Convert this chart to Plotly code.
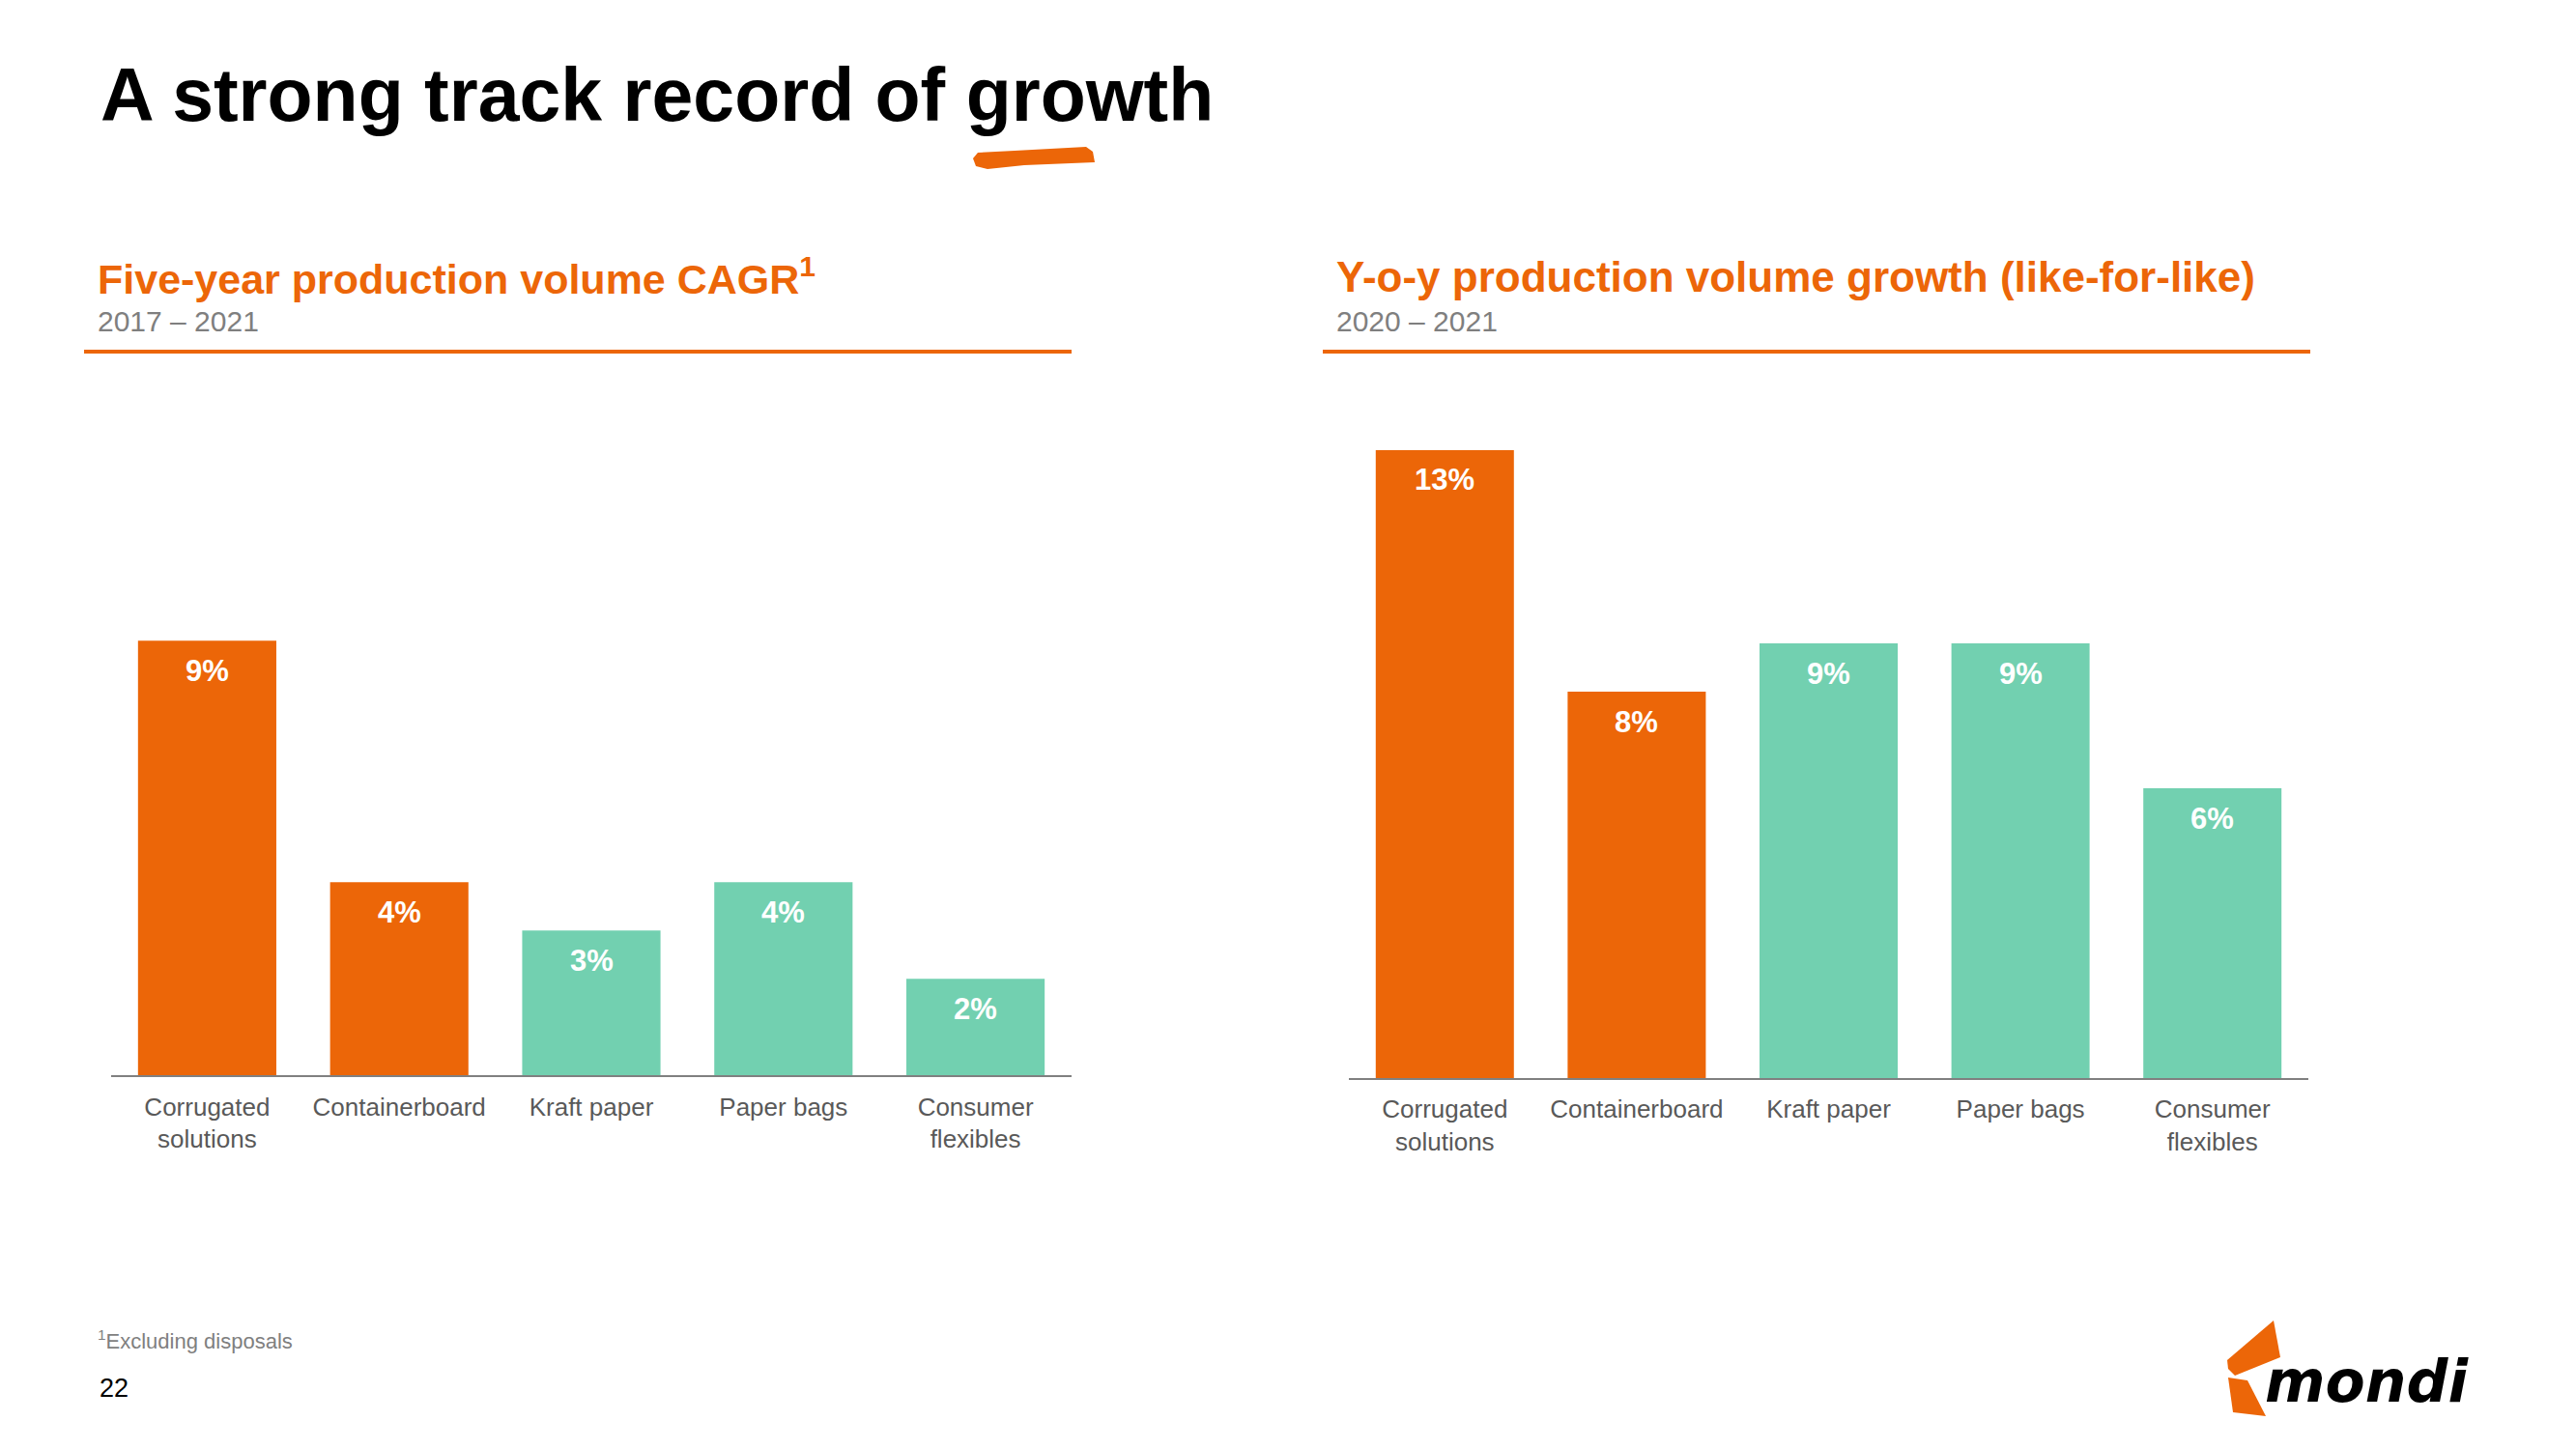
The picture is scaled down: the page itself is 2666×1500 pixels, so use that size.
import plotly.graph_objects as go

# page body adds an 8px margin; the figure is sized and shifted to compensate
PAGE_MARGIN = 8
W, H = 2666 - PAGE_MARGIN, 1500 - PAGE_MARGIN

# ---- data ----
categories = ["Corrugated<br>solutions", "Containerboard", "Kraft paper", "Paper bags", "Consumer<br>flexibles"]
cagr_values = [9, 4, 3, 4, 2]
yoy_values = [13, 8, 9, 9, 6]
main_title = "A strong track record of growth"
left_title = "Five-year production volume CAGR<sup>1</sup>"
left_period = "2017 – 2021"
right_title = "Y-o-y production volume growth (like-for-like)"
right_period = "2020 – 2021"
footnote = "<sup>1</sup>Excluding disposals"
page_number = "22"

# ---- styles ----
ORANGE = "#EC6608"
TEAL = "#72D0B0"
GRAY_TXT = "#595959"
bar_colors = [ORANGE, ORANGE, TEAL, TEAL, TEAL]
FONT = "Liberation Sans, Arial, sans-serif"


def px(x):
    return (x - PAGE_MARGIN) / W


def py(y):
    return 1 - (y - PAGE_MARGIN) / H


fig = go.Figure()
fig.add_bar(x=categories, y=cagr_values, marker_color=bar_colors, marker_line_width=0,
            xaxis="x", yaxis="y", hoverinfo="skip")
fig.add_bar(x=categories, y=yoy_values, marker_color=bar_colors, marker_line_width=0,
            xaxis="x2", yaxis="y2", hoverinfo="skip")

annotations = []
for xr, yr, vals in (("x", "y", cagr_values), ("x2", "y2", yoy_values)):
    for c, v in zip(categories, vals):
        annotations.append(dict(x=c, y=v, xref=xr, yref=yr, text=f"{v}%", showarrow=False,
                                yshift=-31, yanchor="middle",
                                font=dict(family=FONT, size=31, color="white", weight="bold")))


def txt(x, y, text, size, color, bold=False, anchor="left", family=FONT, italic=False):
    annotations.append(dict(x=px(x), y=py(y), xref="paper", yref="paper", text=text,
                            showarrow=False, xanchor=anchor, yanchor="middle",
                            font=dict(family=family, size=size, color=color,
                                      weight="bold" if bold else "normal",
                                      style="italic" if italic else "normal")))


txt(102, 98, main_title, 77, "black", bold=True)
txt(99, 286, left_title, 43, ORANGE, bold=True)
txt(99, 332, left_period, 30, "#7F7F7F")
txt(1381, 286, right_title, 44, ORANGE, bold=True)
txt(1381, 332, right_period, 30, "#7F7F7F")
txt(99, 1387, footnote, 22, "#7F7F7F")
txt(101, 1437, page_number, 27, "black")
txt(2342, 1430, "mondi", 60, "black", bold=True, family="DejaVu Sans, sans-serif", italic=True)


def path(points):
    return "M " + " L ".join(f"{px(x)},{py(y)}" for x, y in points) + " Z"


shapes = [
    dict(type="line", xref="paper", yref="paper", x0=px(87), x1=px(1109), y0=py(364), y1=py(364),
         line=dict(color=ORANGE, width=4)),
    dict(type="line", xref="paper", yref="paper", x0=px(1369), x1=px(2391), y0=py(364), y1=py(364),
         line=dict(color=ORANGE, width=4)),
    # brush stroke under "growth"
    dict(type="path", xref="paper", yref="paper",
         path=path([(1012, 158), (1050, 156), (1124, 152), (1131, 157), (1133, 168),
                    (1060, 171), (1022, 175), (1010, 172), (1007, 164)]),
         fillcolor=ORANGE, line=dict(width=0)),
    # logo pieces
    dict(type="path", xref="paper", yref="paper",
         path=path([(2353, 1367), (2360, 1405), (2313, 1424), (2306, 1417), (2305, 1408)]),
         fillcolor=ORANGE, line=dict(width=0)),
    dict(type="path", xref="paper", yref="paper",
         path=path([(2306, 1426), (2326, 1429), (2345, 1466), (2311, 1462)]),
         fillcolor=ORANGE, line=dict(width=0)),
]

xcommon = dict(type="category", range=[-0.5, 4.5], showline=True, linecolor="#808080", linewidth=2,
               ticks="", showgrid=False, zeroline=False, fixedrange=True, ticklabelstandoff=8,
               tickfont=dict(family=FONT, size=26, color=GRAY_TXT))
ycommon = dict(range=[0, 14], visible=False, showgrid=False, zeroline=False, fixedrange=True)

fig.update_layout(
    width=W, height=H, margin=dict(l=0, r=0, t=0, b=0),
    paper_bgcolor="white", plot_bgcolor="white", showlegend=False, bargap=0.28,
    xaxis=dict(domain=[px(115), px(1109)], anchor="y", **xcommon),
    yaxis=dict(domain=[py(1113.3), py(413.3)], anchor="x", **ycommon),
    xaxis2=dict(domain=[px(1396), px(2389)], anchor="y2", **xcommon),
    yaxis2=dict(domain=[py(1116), py(416)], anchor="x2", **ycommon),
    annotations=annotations, shapes=shapes,
)

fig.write_html("out.html")
